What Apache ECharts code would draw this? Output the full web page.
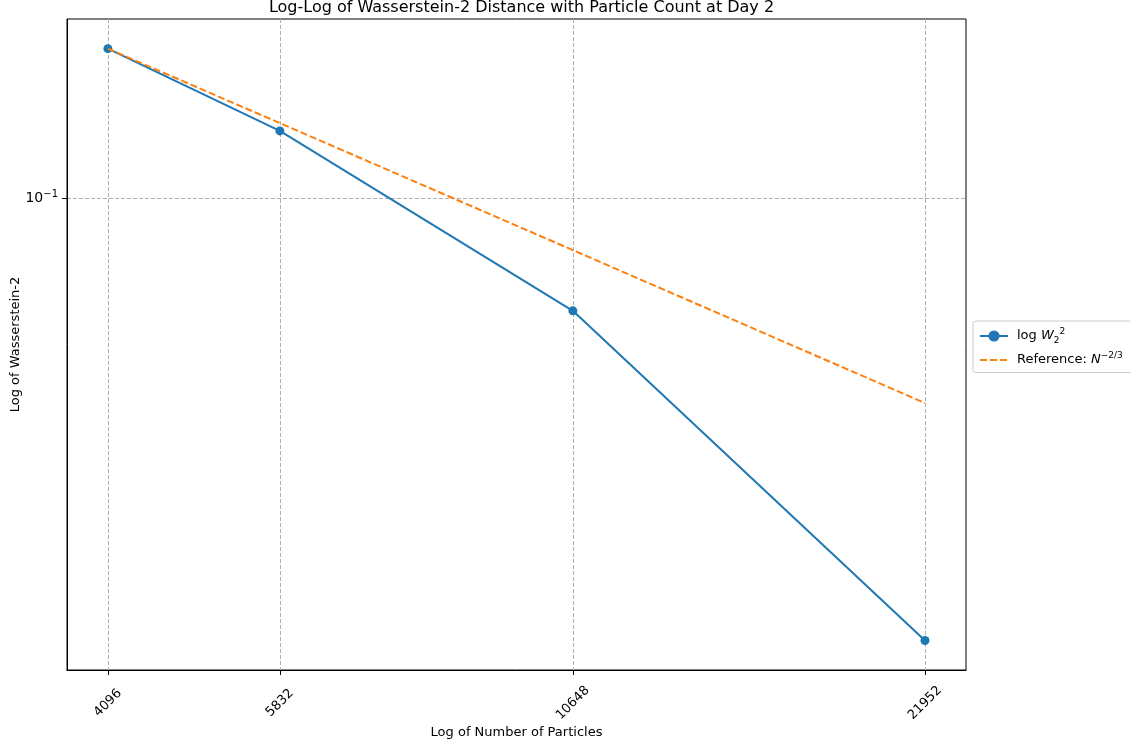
<!DOCTYPE html>
<html>
<head>
<meta charset="utf-8">
<script src="https://cdn.jsdelivr.net/npm/echarts@6/dist/echarts.min.js"></script>
<style>
html,body{margin:0;padding:0;background:#fff;}
#chart{width:1131px;height:744px;}
</style>
</head>
<body>
<div id="chart"></div>
<script>
const particleCounts = [4096, 5832, 10648, 21952];
const w2Values = [0.1603, 0.1236, 0.0700, 0.02469];
const referenceValues = [0.1603, 0.1267, 0.0848, 0.0523];
const xTickValues = [4096, 5832, 10648, 21952];
const yTickValues = [0.1];
const titleText = 'Log-Log of Wasserstein-2 Distance with Particle Count at Day 2';
const xAxisTitle = 'Log of Number of Particles';
const yAxisTitle = 'Log of Wasserstein-2';

const FONT = 'DejaVu Sans';
const chart = echarts.init(document.getElementById('chart'), null, {renderer: 'canvas'});

const toPairs = (xs, ys) => xs.map((x, i) => [x, ys[i]]);

const option = {
  animation: false,
  backgroundColor: '#ffffff',
  textStyle: {fontFamily: FONT},
  title: {
    text: titleText,
    left: 516.5,
    textAlign: 'center',
    top: -5,
    textStyle: {fontFamily: FONT, fontSize: 16, fontWeight: 'normal', color: '#000'}
  },
  grid: {
    left: 67, top: 19, width: 899, height: 651,
    outerBoundsMode: 'none',
    containLabel: false,
    show: true, borderColor: '#000', borderWidth: 1, backgroundColor: 'transparent'
  },
  legend: {
    orient: 'vertical',
    left: 973,
    top: 321,
    padding: [6, 10, 6, 6],
    itemGap: 6,
    itemWidth: 28,
    itemHeight: 14,
    backgroundColor: '#fff',
    borderColor: '#cccccc',
    borderWidth: 1,
    borderRadius: 3,
    data: [
      {name: 'w2'},
      {name: 'ref', itemStyle: {opacity: 0}}
    ],
    formatter: function (name) {
      if (name === 'w2') return '{n|log }{i|W}{sub|2}{sup|2}';
      return '{n|Reference: }{i|N}{sup|−2/3}';
    },
    textStyle: {
      fontFamily: FONT, fontSize: 13, color: '#000', padding: [0, 0, 0, 4],
      rich: {
        n: {fontFamily: FONT, fontSize: 13, lineHeight: 18, color: '#000'},
        i: {fontFamily: FONT, fontSize: 13, lineHeight: 18, fontStyle: 'italic', color: '#000'},
        sup: {fontFamily: FONT, fontSize: 9, lineHeight: 18, verticalAlign: 'top', color: '#000'},
        sub: {fontFamily: FONT, fontSize: 9, lineHeight: 18, verticalAlign: 'bottom', color: '#000'}
      }
    }
  },
  xAxis: {
    type: 'log',
    logBase: 10,
    min: 3765.9,
    max: 23882,
    name: xAxisTitle,
    nameLocation: 'middle',
    nameGap: 56,
    nameMoveOverlap: false,
    nameTextStyle: {fontFamily: FONT, fontSize: 13, color: '#000'},
    axisLine: {show: true, lineStyle: {color: '#000', width: 1}},
    axisTick: {show: true, customValues: xTickValues, length: 5, inside: false, lineStyle: {color: '#000'}},
    minorTick: {show: false},
    axisLabel: {
      customValues: xTickValues,
      rotate: 45,
      align: 'center',
      verticalAlign: 'middle',
      margin: 33,
      fontFamily: FONT, fontSize: 13, color: '#000',
      formatter: v => String(Math.round(v))
    },
    splitLine: {show: true, lineStyle: {color: '#b0b0b0', type: [4, 2], width: 1}}
  },
  yAxis: {
    type: 'log',
    logBase: 10,
    min: 0.022491,
    max: 0.17607,
    name: yAxisTitle,
    nameLocation: 'middle',
    nameGap: 45,
    nameMoveOverlap: false,
    nameRotate: 90,
    nameTextStyle: {fontFamily: FONT, fontSize: 13, color: '#000'},
    axisLine: {show: true, lineStyle: {color: '#000', width: 1}},
    axisTick: {show: true, customValues: yTickValues, length: 5, inside: false, lineStyle: {color: '#000'}},
    minorTick: {show: false},
    axisLabel: {
      customValues: yTickValues,
      margin: 9,
      fontFamily: FONT, fontSize: 14, color: '#000',
      formatter: function (v) {
        const e = Math.round(Math.log10(v));
        return '{b|10}{s|' + (e < 0 ? '−' + (-e) : e) + '}';
      },
      rich: {
        b: {fontFamily: FONT, fontSize: 14, lineHeight: 18, color: '#000'},
        s: {fontFamily: FONT, fontSize: 10, lineHeight: 18, verticalAlign: 'top', color: '#000'}
      }
    },
    splitLine: {show: true, lineStyle: {color: '#b0b0b0', type: [4, 2], width: 1}}
  },
  series: [
    {
      name: 'w2',
      type: 'line',
      data: toPairs(particleCounts, w2Values),
      symbol: 'circle',
      symbolSize: 9,
      showSymbol: true,
      itemStyle: {color: '#1f77b4'},
      lineStyle: {color: '#1f77b4', width: 2},
      z: 2
    },
    {
      name: 'ref',
      type: 'line',
      data: toPairs(particleCounts, referenceValues),
      symbol: 'none',
      itemStyle: {color: '#ff7f0e'},
      lineStyle: {color: '#ff7f0e', width: 2, type: [7, 3]},
      z: 3
    }
  ]
};
chart.setOption(option);
</script>
</body>
</html>
